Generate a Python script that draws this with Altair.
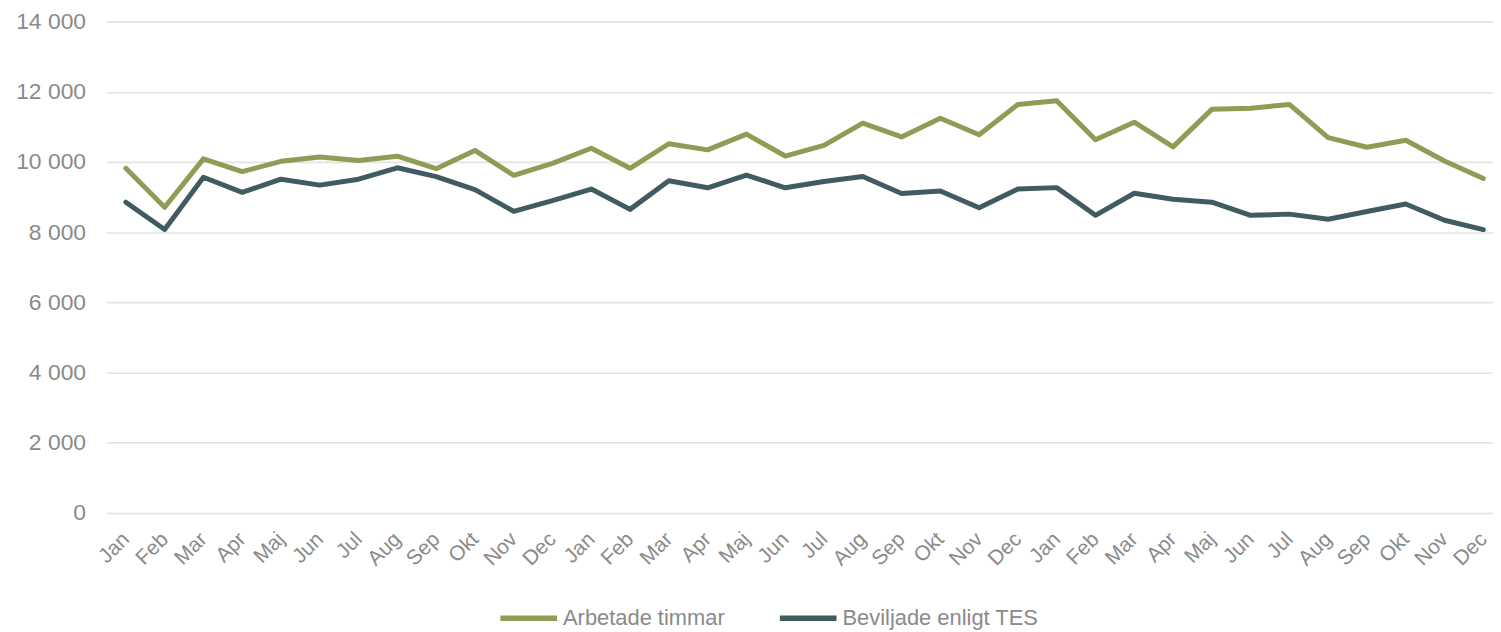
import json
import altair as alt
import pandas as pd

months = ["Jan", "Feb", "Mar", "Apr", "Maj", "Jun", "Jul", "Aug", "Sep", "Okt", "Nov", "Dec",
          "Jan", "Feb", "Mar", "Apr", "Maj", "Jun", "Jul", "Aug", "Sep", "Okt", "Nov", "Dec",
          "Jan", "Feb", "Mar", "Apr", "Maj", "Jun", "Jul", "Aug", "Sep", "Okt", "Nov", "Dec"]

arbetade = [9820, 8710, 10090, 9725, 10020, 10140, 10045, 10165, 9810, 10330, 9620, 9960,
            10390, 9820, 10520, 10345, 10795, 10170, 10475, 11105, 10715, 11245, 10775, 11640,
            11745, 10635, 11135, 10430, 11500, 11530, 11640, 10695, 10420, 10620, 10030, 9530]

beviljade = [8855, 8075, 9565, 9135, 9510, 9340, 9510, 9835, 9585, 9215, 8595, 8900,
             9230, 8650, 9465, 9265, 9625, 9265, 9445, 9585, 9105, 9175, 8695, 9230,
             9270, 8480, 9110, 8940, 8855, 8480, 8515, 8370, 8590, 8805, 8340, 8075]

series_names = ["Arbetade timmar", "Beviljade enligt TES"]
series_colors = ["#8f9c55", "#415b63"]
y_ticks = [0, 2000, 4000, 6000, 8000, 10000, 12000, 14000]

rows = []
for i, m in enumerate(months):
    rows.append({"i": i, "month": m, "serie": series_names[0], "value": arbetade[i]})
    rows.append({"i": i, "month": m, "serie": series_names[1], "value": beviljade[i]})
df = pd.DataFrame(rows)

FONT = "Liberation Sans"
GRAY = "#8a8a8a"

label_expr = json.dumps(months) + "[datum.value]"

chart = alt.Chart(df).mark_line(strokeWidth=5, strokeCap="round", strokeJoin="round").encode(
    x=alt.X("i:Q",
            scale=alt.Scale(domain=[-0.5, 35.25], nice=False, zero=False),
            axis=alt.Axis(values=list(range(len(months))), labelExpr=label_expr,
                          labelAngle=-45, labelAlign="right", labelBaseline="middle",
                          labelPadding=23, ticks=False, domain=False, grid=False,
                          labelFont=FONT, labelFontSize=21, labelColor=GRAY,
                          labelOverlap=False, labelBound=False, title=None)),
    y=alt.Y("value:Q",
            scale=alt.Scale(domain=[0, 14000], nice=False),
            axis=alt.Axis(values=y_ticks,
                          labelExpr="replace(format(datum.value, ','), ',', ' ')",
                          ticks=False, domain=False, grid=True,
                          gridColor="#e3e3e3", gridWidth=1.6,
                          labelFont=FONT, labelFontSize=23, labelColor=GRAY,
                          labelPadding=21, title=None)),
    color=alt.Color("serie:N",
                    scale=alt.Scale(domain=series_names, range=series_colors),
                    legend=alt.Legend(orient="none", legendX=393, legendY=568,
                                      direction="horizontal", title=None,
                                      symbolType="stroke", symbolSize=3249,
                                      symbolStrokeWidth=5.5, labelOffset=3,
                                      columnPadding=44, padding=0, labelLimit=0,
                                      labelFont=FONT, labelFontSize=22,
                                      labelColor=GRAY)),
    order="i:Q",
).properties(
    width=1394,
    height=494,
    autosize=alt.AutoSizeParams(type="none"),
    padding={"left": 99, "top": 12, "right": 0, "bottom": 118},
).configure_view(stroke=None)

chart.save("out.html", embed_options={"renderer": "svg", "actions": False})
